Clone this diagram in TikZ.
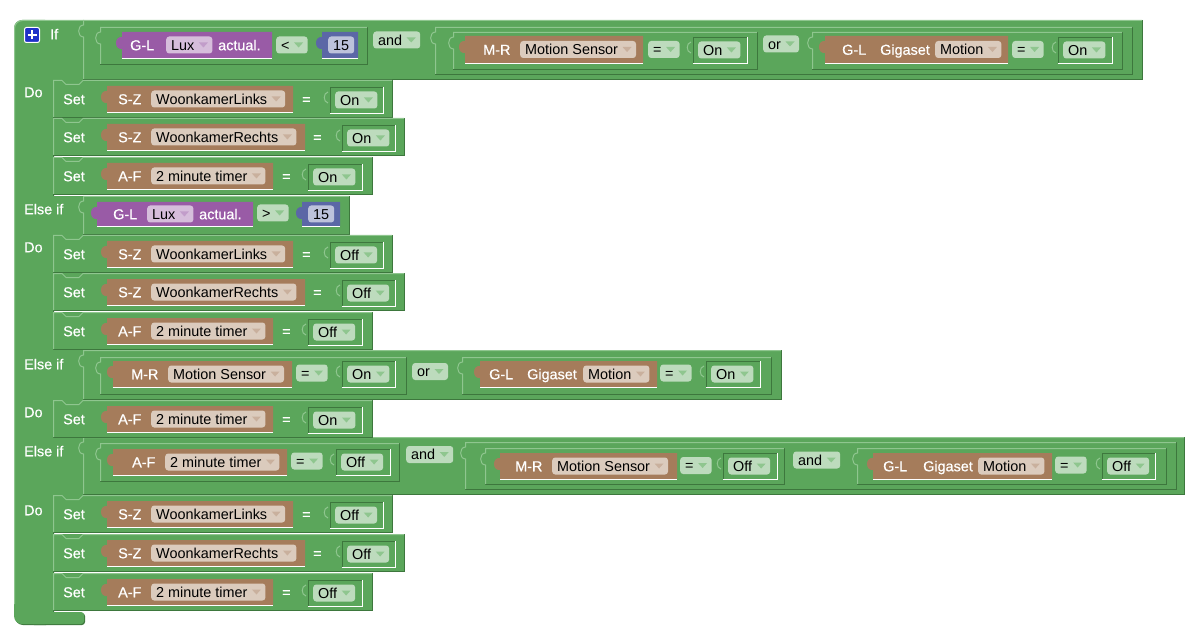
\documentclass[tikz,border=0pt]{standalone}
\usepackage{fontspec}
\setmainfont{Liberation Sans}
\newfontface\blocklabel{Liberation Sans}[FakeBold=0.6]
\definecolor{logic}{HTML}{5BA65B}
\definecolor{logicdark}{HTML}{3D773D}
\definecolor{logiclight}{HTML}{8FC68F}
\definecolor{device}{HTML}{A57C5B}
\definecolor{sensor}{HTML}{995BA6}
\definecolor{number}{HTML}{5B67A6}
\definecolor{plusblue}{HTML}{1F30C8}
\definecolor{ddlogic}{HTML}{BDDBBD}
\definecolor{dddevice}{HTML}{DBCBBD}
\definecolor{ddsensor}{HTML}{D6BDDB}
\definecolor{ddnumber}{HTML}{BDC2DB}
% blocks
\newcommand{\logicblock}[4]{%
  \fill[logic] (#1,#2) rectangle (#3,#4);
  \draw[sh] (#1,#4-.5) -| (#3-.5,#2);
  \draw[hl] (#1+.5,#4-1) -- (#1+.5,#2+17) .. controls (#1-6,#2+17) and (#1-6,#2+5) .. (#1+.5,#2+5) -- (#1+.5,#2+.5) -- (#3-1,#2+.5);}
\newcommand{\stateblock}[4]{%
  \fill[logic] (#1,#2) rectangle (#3,#4);
  \draw[hl] (#1-2,#2+16) .. controls (#1-7,#2+15) and (#1-7,#2+6) .. (#1-2,#2+5);
  \draw[sh] (#1+.5,#4) |- (#3,#2+.5);
  \draw[white, line width=1.2pt] (#1,#4+.2) -| (#3+.2,#2);}
\newcommand{\valueblock}[5]{%
  \fill[#1] (#2,#3) -- (#4,#3) -- (#4,#5) -- (#2,#5) -- (#2,#3+17) .. controls (#2-8,#3+18) and (#2-8,#3+4) .. (#2,#3+5) -- cycle;
  \draw[white, line width=1.2pt] (#2,#5+.6) -- (#4,#5+.6);}
\begin{document}
\begin{tikzpicture}[x=1pt, y=-1pt, font=\fontsize{14.4}{16}\selectfont,
  txt/.style={inner sep=0pt, text height=10.5pt, text depth=0pt, anchor=west},
  lbl/.style={txt, text=white, font=\fontsize{14.4}{16}\blocklabel},
  field/.style={txt, inner xsep=5pt, minimum height=17pt, rounded corners=3pt, fill=#1},
  dd/.style 2 args={field=#1, execute at end node={\hspace{13pt}},
    path picture={\fill[#2, sharp corners] ([xshift=-13.5pt,yshift=2.5pt]path picture bounding box.east) -- ++(9pt,0) -- ++(-4.5pt,-5pt) -- cycle;}},
  ddg/.style={dd={ddlogic}{logiclight}},
  ddb/.style={dd={dddevice}{device!60!white}},
  ddp/.style={dd={ddsensor}{sensor!60!white}},
  hl/.style={logiclight, line width=1pt},
  sh/.style={logicdark, line width=1pt}]
  \useasboundingbox (0,0) rectangle (1197,631);
  % if block
  \foreach \s/\c in {1/logicdark, 0/logic} {
    \begin{scope}[shift={(\s,\s)}]
      \fill[\c, rounded corners=8] (14,20) rectangle (53,624);
      \fill[\c, rounded corners=3] (30,612) rectangle (84,624);
      \foreach \ya/\yb in {20/80, 196/235, 350/400, 437/495}
        \fill[\c] (40,\ya) rectangle (90,\yb);
    \end{scope}
  }
  \draw[hl, rounded corners=8] (14.5,604) -- (14.5,20.5) -- (84,20.5);
  % and / or / compare blocks
  \foreach \xa/\ya/\xb/\yb in {83/20/1143/80, 100/27/368/65, 435/27/1133/75, 453/32/758/70, 812/32/1123/70,
      83/196/350/235, 83/350/782/400, 100/357/407/395, 462/357/772/395,
      83/437/1185/495, 100/443/400/482, 465/442/1177/490, 485/448/785/485, 857/448/1167/485}
    \logicblock{\xa}{\ya}{\xb}{\yb};
  % do statements
  \foreach \ty/\rx/\cd/\nm/\bx/\eqx/\va/\vb/\vl [count=\i] in {
      80/393/S-Z/WoonkamerLinks/293/302/330/383/On,
      118/405/S-Z/WoonkamerRechts/305/313/342/395/On,
      157/373/A-F/2 minute timer/273/282/308/362/On,
      235/393/S-Z/WoonkamerLinks/293/302/330/383/Off,
      273/405/S-Z/WoonkamerRechts/305/313/342/395/Off,
      312/373/A-F/2 minute timer/273/282/308/362/Off,
      400/373/A-F/2 minute timer/273/282/308/362/On,
      495/393/S-Z/WoonkamerLinks/293/302/330/383/Off,
      534/405/S-Z/WoonkamerRechts/305/313/342/395/Off,
      573/373/A-F/2 minute timer/273/282/308/362/Off} {
    \fill[logic] (53,\ty) rectangle (\rx,\ty+38);
    \draw[sh] (53,\ty+37.5) -| (\rx-.5,\ty);
    \draw[hl] (53.5,\ty+37) -- (53.5,\ty+.5) -- (62,\ty+.5) -- (66,\ty+4.5) -- (79,\ty+4.5) -- (83,\ty+.5) -- (\rx-1,\ty+.5);
    \valueblock{device}{107}{\ty+6}{\bx}{\ty+32}
    \stateblock{\va}{\ty+7}{\vb}{\ty+33}
    \node[lbl] (set\i) at (63,\ty+19) {Set};
    \node[lbl] (code\i) at (118,\ty+19) {\cd};
    \node[ddb] (var\i) at (151,\ty+19) {\nm};
    \node[lbl] (assign\i) at (\eqx,\ty+19) {=};
    \node[ddg] (state\i) at (\va+5,\ty+20) {\vl};
  }
  % value blocks in the conditions
  \foreach \c/\xa/\ya/\xb/\yb in {sensor/122/32/272/58, number/322/32/358/58, device/465/36/643/63, device/825/36/1008/63,
      sensor/97/202/253/226, number/302/202/340/226, device/113/361/292/387, device/480/361/657/387,
      device/113/449/287/475, device/500/453/677/479, device/873/453/1052/479}
    \valueblock{\c}{\xa}{\ya}{\xb}{\yb};
  \foreach \xa/\ya/\xb/\yb in {693/37/747/63, 1058/37/1112/63, 342/361/395/387, 706/361/760/387,
      336/449/390/475, 723/453/777/479, 1102/453/1155/479}
    \stateblock{\xa}{\ya}{\xb}{\yb};
  % labels
  \node[fill=plusblue, draw=white, line width=1pt, rounded corners=2pt, minimum size=15pt, inner sep=0pt] (plus) at (32,35) {};
  \draw[white, line width=2.2pt] ([xshift=-4.5pt]plus.center) -- ([xshift=4.5pt]plus.center)
    ([yshift=-4.5pt]plus.center) -- ([yshift=4.5pt]plus.center);
  \node[lbl] (if) at (50,34) {If};
  \foreach \y [count=\i] in {92, 247, 412, 510}
    \node[lbl] (do\i) at (24,\y) {Do};
  \foreach \y [count=\i] in {209, 364, 451}
    \node[lbl] (elseif\i) at (24,\y) {Else if};
  % if
  \node[lbl] (gl1) at (130,45) {G-L};
  \node[ddp] (lux1) at (166,45) {Lux};
  \node[lbl] (actual1) at (218,45) {actual.};
  \node[ddg] (lt1) at (276,45) {<};
  \node[field=ddnumber] (num1) at (328,45) {15};
  \node[ddg] (and1) at (373,40) {and};
  \node[lbl] (mr1) at (483,49.5) {M-R};
  \node[ddb] (sensor1) at (520,49.5) {Motion Sensor};
  \node[ddg] (eq1) at (648,49.5) {=};
  \node[ddg] (on1) at (698,50) {On};
  \node[ddg] (or1) at (763,44) {or};
  \node[lbl] (gl2) at (842,49.5) {G-L};
  \node[lbl] (gigaset1) at (880,49.5) {Gigaset};
  \node[ddb] (motion1) at (935,49.5) {Motion};
  \node[ddg] (eq2) at (1012,49.5) {=};
  \node[ddg] (on2) at (1063,50) {On};
  % else if 1
  \node[lbl] (gl3) at (113,214) {G-L};
  \node[ddp] (lux2) at (147,214) {Lux};
  \node[lbl] (actual2) at (199,214) {actual.};
  \node[ddg] (gt1) at (257,213) {>};
  \node[field=ddnumber] (num2) at (308,214) {15};
  % else if 2
  \node[lbl] (mr2) at (131,374) {M-R};
  \node[ddb] (sensor2) at (168,374) {Motion Sensor};
  \node[ddg] (eq3) at (296,373) {=};
  \node[ddg] (on3) at (347,374) {On};
  \node[ddg] (or2) at (412,371.5) {or};
  \node[lbl] (gl4) at (489,374) {G-L};
  \node[lbl] (gigaset2) at (527,374) {Gigaset};
  \node[ddb] (motion2) at (583,374) {Motion};
  \node[ddg] (eq4) at (660,373) {=};
  \node[ddg] (on4) at (711,374) {On};
  % else if 3
  \node[lbl] (af1) at (132,462) {A-F};
  \node[ddb] (timer1) at (165,462) {2 minute timer};
  \node[ddg] (eq5) at (291,461) {=};
  \node[ddg] (off1) at (341,462) {Off};
  \node[ddg] (and2) at (406,454.5) {and};
  \node[lbl] (mr3) at (515,466) {M-R};
  \node[ddb] (sensor3) at (552,466) {Motion Sensor};
  \node[ddg] (eq6) at (680,465.5) {=};
  \node[ddg] (off2) at (728,466) {Off};
  \node[ddg] (and3) at (793,460) {and};
  \node[lbl] (gl5) at (883,466) {G-L};
  \node[lbl] (gigaset3) at (923,466) {Gigaset};
  \node[ddb] (motion3) at (978,466) {Motion};
  \node[ddg] (eq7) at (1055,465) {=};
  \node[ddg] (off3) at (1107,466) {Off};
\end{tikzpicture}
\end{document}
